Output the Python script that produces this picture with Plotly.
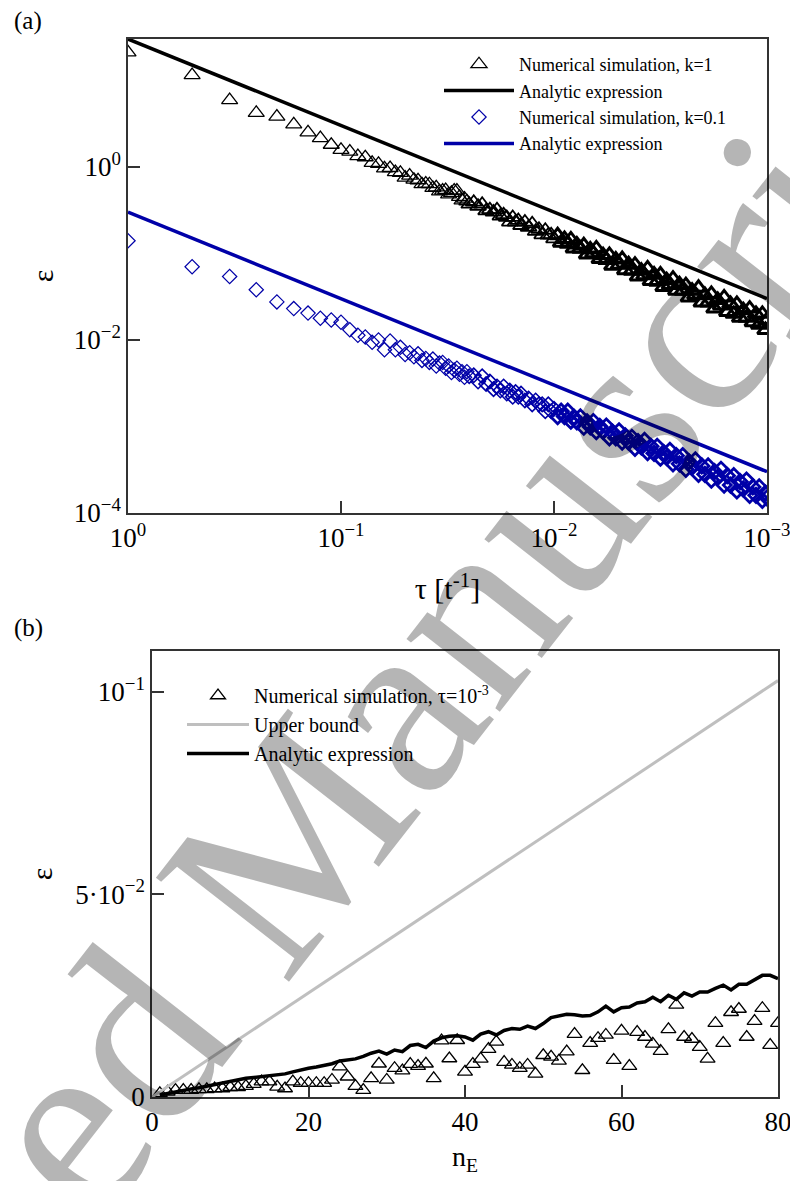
import plotly.graph_objects as go

# ---------------- Panel (a) data ----------------
# number of time steps n (tau = 1/n)
n_steps = [1, 2, 3, 4, 5, 6, 7, 8, 9, 10,
           11, 12, 13, 14, 15, 16, 17, 18, 19, 20,
           21, 22, 23, 24, 25, 26, 27, 28, 29, 30,
           31, 32, 33, 34, 35, 36, 37, 38, 39, 40,
           42, 44, 46, 48, 50, 52, 54, 56, 58, 60, 62, 64, 66, 68, 70,
           73, 76, 79, 82, 85, 88, 91, 94, 97, 100,
           104, 108, 112, 116, 120, 124, 128,
           133, 138, 143, 148, 153, 158,
           164, 170, 176, 182, 188,
           195, 202, 209, 216,
           224, 232, 240, 248,
           257, 266, 275,
           285, 295, 305,
           316, 327, 338,
           350, 362,
           375, 388,
           402, 416, 430,
           445, 461, 477, 494,
           511, 529, 548, 567, 587,
           608, 629, 651, 674, 698,
           722, 748, 774, 801, 829, 858, 888, 919, 951, 984, 1000]

eps_sim_k1 = [21, 11.5, 5.9, 4.2, 3.8, 3.1, 2.5, 2.15, 1.8, 1.57,
              1.50, 1.33, 1.29, 1.11, 1.08, 0.96, 0.97, 0.87, 0.85, 0.75,
              0.79, 0.71, 0.70, 0.63, 0.64, 0.63, 0.57, 0.58, 0.52, 0.53,
              0.54, 0.48, 0.50, 0.53, 0.53, 0.45, 0.41, 0.43, 0.40, 0.37,
              0.39, 0.35, 0.37, 0.31, 0.32, 0.30, 0.32, 0.27, 0.28, 0.26, 0.23, 0.26, 0.23, 0.24, 0.21,
              0.23, 0.20, 0.22, 0.18, 0.19, 0.164, 0.185, 0.163, 0.164, 0.147,
              0.162, 0.133, 0.147, 0.129, 0.145, 0.114, 0.127,
              0.113, 0.124, 0.097, 0.111, 0.100, 0.114,
              0.086, 0.095, 0.084, 0.096, 0.072,
              0.085, 0.074, 0.086, 0.064,
              0.075, 0.063, 0.074, 0.054,
              0.063, 0.056, 0.067,
              0.048, 0.057, 0.047,
              0.057, 0.041, 0.049,
              0.043, 0.051,
              0.037, 0.044,
              0.037, 0.043, 0.031,
              0.037, 0.033, 0.040, 0.027,
              0.033, 0.027, 0.034, 0.023, 0.029,
              0.025, 0.031, 0.021, 0.026, 0.020,
              0.026, 0.018, 0.022, 0.018, 0.023, 0.016, 0.020, 0.015, 0.020, 0.013, 0.017]

eps_sim_k01 = [0.14, 0.07, 0.054, 0.038, 0.0275, 0.023, 0.0204, 0.0178, 0.017, 0.016,
               0.0131, 0.0113, 0.0108, 0.0094, 0.0100, 0.0077, 0.0097, 0.0077, 0.0082, 0.0068,
               0.0071, 0.0064, 0.0069, 0.0058, 0.0061, 0.0055, 0.0060, 0.0050, 0.0054, 0.0055,
               0.0047, 0.0050, 0.0042, 0.0045, 0.0047, 0.0040, 0.0043, 0.0037, 0.0043, 0.0038,
               0.0039, 0.0033, 0.0038, 0.0031, 0.0033, 0.0027, 0.0029, 0.0026, 0.0029, 0.0024, 0.0026, 0.0022, 0.0025, 0.0022, 0.0024,
               0.0020, 0.0021, 0.0018, 0.0020, 0.0018, 0.0018, 0.0015, 0.0018, 0.0015, 0.0016,
               0.0013, 0.0015, 0.0013, 0.0015, 0.00115, 0.00128, 0.00113,
               0.00129, 0.00098, 0.00113, 0.00099, 0.00114, 0.00087,
               0.0010, 0.00088, 0.00101, 0.00074, 0.00086,
               0.00074, 0.00089, 0.00066, 0.00078,
               0.00066, 0.00075, 0.00056, 0.00067,
               0.00058, 0.00069, 0.00050,
               0.00059, 0.00049, 0.00059,
               0.00043, 0.00050, 0.00044,
               0.00053, 0.00037,
               0.00046, 0.00037,
               0.00046, 0.00032, 0.00039,
               0.00034, 0.00041, 0.00028, 0.00035,
               0.00028, 0.00035, 0.00024, 0.00030, 0.00026,
               0.00032, 0.00021, 0.00027, 0.00021, 0.00027,
               0.00018, 0.00023, 0.00019, 0.00024, 0.00016, 0.00020, 0.00016, 0.00020, 0.00014, 0.00017, 0.00015]

tau_analytic = [1.0, 0.001]
eps_analytic_k1 = [30.0, 0.03]
eps_analytic_k01 = [0.3, 0.0003]

tau_ticks = [1, 0.1, 0.01, 0.001]
tau_ticktext = ["10<sup>0</sup>", "10<sup>−1</sup>", "10<sup>−2</sup>", "10<sup>−3</sup>"]
eps_a_ticks = [1, 0.01, 0.0001]
eps_a_ticktext = ["10<sup>0</sup>", "10<sup>−2</sup>", "10<sup>−4</sup>"]

# ---------------- Panel (b) data ----------------
n_E = [1, 2, 3, 4, 5, 6, 7, 8, 9, 10,
       11, 12, 13, 14, 15, 16, 17, 18, 19, 20,
       21, 22, 23, 24, 25, 26, 27, 28, 29, 30,
       31, 32, 33, 34, 35, 36, 37, 38, 39, 40,
       41, 42, 43, 44, 45, 46, 47, 48, 49, 50,
       51, 52, 53, 54, 55, 56, 57, 58, 59, 60,
       61, 62, 63, 64, 65, 66, 67, 68, 69, 70,
       71, 72, 73, 74, 75, 76, 77, 78, 79, 80]

eps_sim_b = [0.0009, 0.0013, 0.0017, 0.0017, 0.0017, 0.0019, 0.0019, 0.0021, 0.0021, 0.0024,
             0.0024, 0.0027, 0.0032, 0.0038, 0.0038, 0.0025, 0.0021, 0.0038, 0.0034, 0.0034,
             0.0034, 0.0034, 0.0042, 0.0075, 0.0050, 0.0027, 0.0017, 0.0046, 0.0082, 0.0042,
             0.0071, 0.0065, 0.0081, 0.0076, 0.0082, 0.0046, 0.0139, 0.0095, 0.0140, 0.0062,
             0.0081, 0.0094, 0.0118, 0.0136, 0.0086, 0.0079, 0.0071, 0.0079, 0.0057, 0.0103,
             0.0099, 0.0089, 0.0112, 0.0155, 0.0066, 0.0133, 0.0145, 0.0153, 0.0091, 0.0163,
             0.0076, 0.0160, 0.0148, 0.0131, 0.0113, 0.0167, 0.0227, 0.0148, 0.0143, 0.0123,
             0.0094, 0.0182, 0.0133, 0.0209, 0.0217, 0.0148, 0.0187, 0.0219, 0.0128, 0.0182]

eps_analytic_b = [0.0005, 0.0009, 0.0014, 0.0017, 0.0020, 0.0023, 0.0027, 0.0030, 0.0034, 0.0039,
                  0.0042, 0.0046, 0.0048, 0.0050, 0.0052, 0.0054, 0.0057, 0.0062, 0.0067, 0.0071,
                  0.0074, 0.0078, 0.0082, 0.0089, 0.0091, 0.0094, 0.0100, 0.0108, 0.0113, 0.0106,
                  0.0116, 0.0112, 0.0127, 0.0130, 0.0122, 0.0138, 0.0146, 0.0150, 0.0151, 0.0148,
                  0.0140, 0.0155, 0.0161, 0.0153, 0.0164, 0.0169, 0.0167, 0.0175, 0.0169, 0.0181,
                  0.0196, 0.0200, 0.0204, 0.0203, 0.0200, 0.0201, 0.0210, 0.0224, 0.0210, 0.0220,
                  0.0222, 0.0232, 0.0235, 0.0246, 0.0235, 0.0251, 0.0241, 0.0257, 0.0249, 0.0259,
                  0.0259, 0.0268, 0.0276, 0.0264, 0.0278, 0.0278, 0.0288, 0.0300, 0.0300, 0.0292]

nE_bound = [0, 80]
eps_bound = [0.0, 0.1027]

eps_b_ticks = [0, 0.05, 0.1]
eps_b_ticktext = ["0", "5·10<sup>−2</sup>", "10<sup>−1</sup>"]
nE_ticks = [0, 20, 40, 60, 80]

assert len(n_steps) == len(eps_sim_k1) == len(eps_sim_k01)
assert len(n_E) == len(eps_sim_b) == len(eps_analytic_b)

# ---------------- Figure ----------------
# the page body has an 8px default margin, so the figure is 8px smaller on each side
OFF = 8
W, H = 790, 1173
FONT = "Liberation Serif"
BLUE = "#0000a8"


def fx(px):
    return (px - OFF) / W


def fy(py):
    return 1 - (py - OFF) / H


tau_sim = [1.0 / n for n in n_steps]
# outline weight grows where the markers overlap into a band
i40 = n_steps.index(40)
i104 = n_steps.index(104)
parts = [(0, i40, 1.3, 1.2), (i40, i104, 1.8, 1.6), (i104, len(n_steps), 3.0, 2.8)]

fig = go.Figure()

for j, (a, b, lw_t, lw_d) in enumerate(parts):
    fig.add_trace(go.Scatter(
        x=tau_sim[a:b], y=eps_sim_k1[a:b], mode="markers", name="Numerical simulation, k=1",
        legendgroup="k1", showlegend=(j == 0), legendrank=1,
        marker=dict(symbol="triangle-up-open", size=14, color="black",
                    line=dict(width=lw_t, color="black")),
        xaxis="x", yaxis="y", legend="legend"))
fig.add_trace(go.Scatter(
    x=tau_analytic, y=eps_analytic_k1, mode="lines", name="Analytic expression", legendrank=2,
    line=dict(color="black", width=3.5), xaxis="x", yaxis="y", legend="legend"))
for j, (a, b, lw_t, lw_d) in enumerate(parts):
    fig.add_trace(go.Scatter(
        x=tau_sim[a:b], y=eps_sim_k01[a:b], mode="markers", name="Numerical simulation, k=0.1",
        legendgroup="k01", showlegend=(j == 0), legendrank=3,
        marker=dict(symbol="diamond-open", size=11, color=BLUE,
                    line=dict(width=lw_d, color=BLUE)),
        xaxis="x", yaxis="y", legend="legend"))
fig.add_trace(go.Scatter(
    x=tau_analytic, y=eps_analytic_k01, mode="lines", name="Analytic expression", legendrank=4,
    line=dict(color=BLUE, width=3.5), xaxis="x", yaxis="y", legend="legend"))

fig.add_trace(go.Scatter(
    x=n_E, y=eps_sim_b, mode="markers", name="Numerical simulation, τ=10<sup>-3</sup>",
    marker=dict(symbol="triangle-up-open", size=13, color="black", line=dict(width=1.3, color="black")),
    xaxis="x2", yaxis="y2", legend="legend2"))
fig.add_trace(go.Scatter(
    x=nE_bound, y=eps_bound, mode="lines", name="Upper bound",
    line=dict(color="#bfbfbf", width=3), xaxis="x2", yaxis="y2", legend="legend2"))
fig.add_trace(go.Scatter(
    x=n_E, y=eps_analytic_b, mode="lines", name="Analytic expression",
    line=dict(color="black", width=3.5), xaxis="x2", yaxis="y2", legend="legend2"))

axis_common = dict(showgrid=False, zeroline=False, showline=True, mirror=True, automargin=False,
                   linecolor="#333333", linewidth=1.5, ticks="inside", tickcolor="#333333",
                   tickwidth=1.5, ticklen=12, tickfont=dict(family=FONT, size=27, color="black"))

fig.update_layout(
    width=W, height=H,
    margin=dict(l=0, r=0, t=0, b=0),
    paper_bgcolor="white", plot_bgcolor="white",
    font=dict(family=FONT, color="black"),
    xaxis=dict(axis_common, type="log", range=[0, -3], domain=[fx(128), fx(767)], anchor="y",
               tickvals=tau_ticks, ticktext=tau_ticktext,
               title=dict(text="τ [t<sup>-1</sup>]", font=dict(family=FONT, size=30), standoff=26)),
    yaxis=dict(axis_common, type="log", range=[-4, 1.4771], domain=[fy(513), fy(39)], anchor="x",
               tickvals=eps_a_ticks, ticktext=eps_a_ticktext,
               title=dict(text="ε", font=dict(family=FONT, size=30), standoff=11)),
    xaxis2=dict(axis_common, range=[0, 80], domain=[fx(152), fx(778)], anchor="y2",
                tickvals=nE_ticks,
                title=dict(text="n<sub>E</sub>", font=dict(family=FONT, size=28), standoff=10)),
    yaxis2=dict(axis_common, range=[0, 0.11], domain=[fy(1097), fy(651)], anchor="x2",
                tickvals=eps_b_ticks, ticktext=eps_b_ticktext,
                title=dict(text="ε", font=dict(family=FONT, size=30), standoff=14)),
    legend=dict(x=fx(439), y=fy(46), xanchor="left", yanchor="top",
                bgcolor="rgba(0,0,0,0)", font=dict(family=FONT, size=18),
                itemwidth=70, tracegroupgap=0),
    legend2=dict(x=fx(182), y=fy(676), xanchor="left", yanchor="top",
                 bgcolor="rgba(0,0,0,0)", font=dict(family=FONT, size=20),
                 itemwidth=62, tracegroupgap=0),
    showlegend=True,
)

fig.add_annotation(text="(a)", x=fx(12), y=fy(5), xref="paper", yref="paper",
                   xanchor="left", yanchor="top", showarrow=False,
                   font=dict(family=FONT, size=25, color="black"))
fig.add_annotation(text="(b)", x=fx(12), y=fy(612), xref="paper", yref="paper",
                   xanchor="left", yanchor="top", showarrow=False,
                   font=dict(family=FONT, size=25, color="black"))

# watermark
fig.add_annotation(text="Accepted Manuscript", x=fx(258), y=fy(880), xref="paper", yref="paper",
                   xanchor="center", yanchor="middle", showarrow=False, textangle=-52,
                   font=dict(family=FONT, size=258, color="rgba(0,0,0,0.29)"))

fig.write_html("out.html")
